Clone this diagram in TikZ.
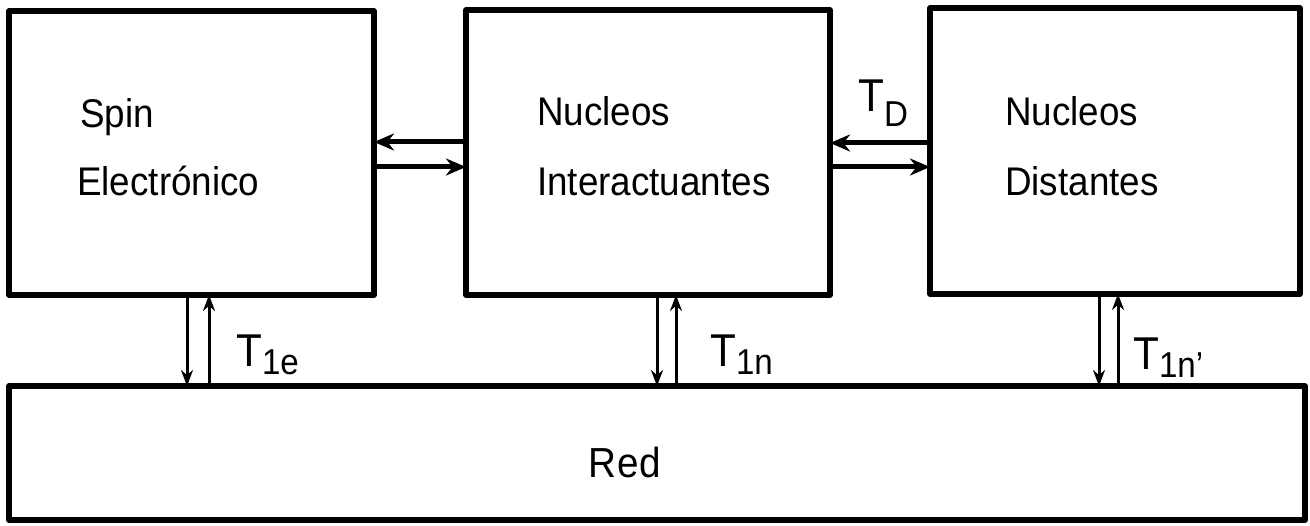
\documentclass[tikz,border=0pt]{standalone}
\usepackage{fontspec}
\setmainfont{Liberation Sans}[FakeStretch=0.92]
\usetikzlibrary{arrows.meta}
\begin{document}
\begin{tikzpicture}[x=1pt,y=-1pt,
  blk/.style={draw,line width=5.5pt,line join=round},
  lbl/.style={anchor=base west,inner sep=0pt,font=\fontsize{40}{48}\selectfont},
  tlbl/.style={anchor=base west,inner sep=0pt,font=\fontsize{46}{52}\selectfont},
  harr/.style={line width=5pt,-{Stealth[length=20pt,width=17pt]}},
  varr/.style={line width=3pt,-{Stealth[length=16pt,width=12pt]}}]
\useasboundingbox (0,0) rectangle (1310,526);
\draw[blk] (9,11) rectangle (374,295);
\draw[blk] (466,10) rectangle (830,295);
\draw[blk] (930,8) rectangle (1300,294);
\draw[blk] (9,386) rectangle (1305,520);
% box text
\node[lbl] (s1) at (80,128) {Spin};
\node[lbl] (s2) at (77,196) {Electrónico};
\node[lbl] (n1) at (537,126) {Nucleos};
\node[lbl] (n2) at (537,196) {Interactuantes};
\node[lbl] (d1) at (1005,126) {Nucleos};
\node[lbl] (d2) at (1005,196) {Distantes};
\node[lbl,font=\fontsize{42}{48}\selectfont] (red) at (588,478) {R\kern1pt e\kern1pt d};
% horizontal connectors
\coordinate (a1) at (466,142); \coordinate (a2) at (374,142);
\coordinate (a3) at (374,167); \coordinate (a4) at (466,167);
\coordinate (c1) at (930,143); \coordinate (c2) at (830,143);
\coordinate (c3) at (830,167); \coordinate (c4) at (930,167);
\draw[harr] (a1) -- (a2);
\draw[harr] (a3) -- (a4);
\draw[harr] (c1) -- (c2);
\draw[harr] (c3) -- (c4);
% vertical connectors
\foreach \d/\u/\yb in {187/209/295, 657/676/295, 1099/1118/294}{
  \draw[varr] (\d,\yb) -- (\d,386);
  \draw[varr] (\u,386) -- (\u,\yb);
}
% labels
\node[tlbl] (td) at (858,112) {T\raisebox{-0.6ex}{\fontsize{36}{40}\selectfont D}};
\node[tlbl] (t1) at (236,367) {T\raisebox{-0.3ex}{\fontsize{36}{40}\selectfont 1e}};
\node[tlbl] (t2) at (710,367) {T\raisebox{-0.3ex}{\fontsize{36}{40}\selectfont 1n}};
\node[tlbl] (t3) at (1133,370) {T\raisebox{-0.3ex}{\fontsize{36}{40}\selectfont 1n’}};
\end{tikzpicture}
\end{document}
